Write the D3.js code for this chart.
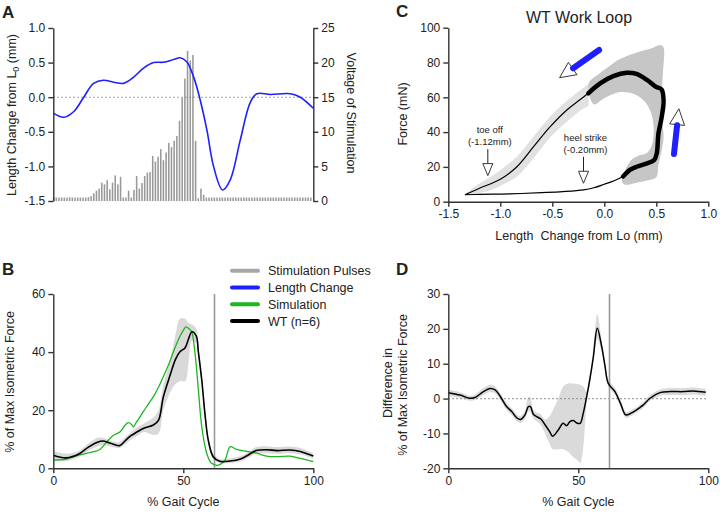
<!DOCTYPE html>
<html><head><meta charset="utf-8">
<script src="https://cdn.jsdelivr.net/npm/d3@7"></script>
<style>body{margin:0;background:#fff} svg{display:block}</style>
</head><body><svg id="c" width="720" height="514"></svg>
<script>
// ---------- Panel A data ----------
const stimPulses = [
0.5,0.5,0.5,0.5,0.5,0.5,0.55,0.5,0.5,0.5,0.5,0.5,0.5,0.55,
0.7,1.1,1.5,1.8,2.65,2.4,3.0,1.7,2.65,3.7,2.4,3.5,0.5,0.5,1.5,0.5,1.6,3.6,1.8,2.6,3.6,4.1,4.2,6.5,5.7,6.4,7.5,5.9,7.0,8.4,7.8,8.7,9.4,11.6,14.9,17.7,21.7,20.3,21.1,8.7,0.4,1.8,0.9,
0.5,0.5,0.5,0.5,0.5,0.5,0.5,0.5,0.5,0.5,
0.5,0.5,0.5,0.5,0.5,0.5,0.5,0.5,0.5,0.5,
0.5,0.5,0.5,0.5,0.5,0.5,0.5,0.5,0.5,0.5,
0.5,0.5,0.5,0.5,0.5,0.5,0.5,0.5,0.5,0.5];
const lengthPct = [0,4,7.8,11.7,15.5,19.3,23.2,27,30.9,34.7,38.6,42.4,46.3,48.8,51.4,54,56.5,59.1,61.7,65.1,68.1,71.9,75.8,78.3,83.5,91.2,95,100];
const lengthMm = [-0.23,-0.29,-0.21,0.0,0.20,0.245,0.217,0.20,0.29,0.42,0.50,0.505,0.545,0.57,0.51,0.29,-0.04,-0.48,-1.01,-1.34,-1.19,-0.62,-0.07,0.05,0.04,0.05,0.0,-0.16];
const aLeftTicks = [-1.5,-1.0,-0.5,0,0.5,1.0];
const aRightTicks = [0,5,10,15,20,25];

// ---------- Panel B data ----------
const wtPct  = [0,5,10,13.5,17,19,22,25.5,28,30,32,35,38.5,40.5,42.3,44.9,47,48.7,50.7,52,53.3,55,55.8,57.1,58.3,59.6,61.5,64,68,72,75,78,82,86,91,95,100];
const wtMean = [4.5,3.6,5.0,7.3,9.0,9.4,8.6,7.8,9.8,11.3,12.4,13.9,14.9,16.6,24.5,32,37.5,40.1,41.5,44.5,47,45.5,40,30.4,19,9.7,4.0,2.4,2.5,3.2,4.6,6.1,6.4,6.1,6.3,5.8,4.2];
const wtLow  = [3,2.5,4,6,7.5,8,7.5,7,8.5,10,11,12.5,11.5,12,20,26,29,30,30,36,44,43,38,28.5,17,8.5,3,1.8,1.8,2.4,3.6,5,5.2,5,5.2,4.8,3.3];
const wtHigh = [6,5,6,8.5,10.5,10.5,9.5,9,11,12.5,14,15.5,17.5,20,28.5,37,46,51.5,51.5,50,49.5,48,42,32.5,21,11,5,3.2,3.4,4.2,5.6,7.3,7.6,7.3,7.5,7,5.2];
const simPct = [0,5,10,15.4,17.9,20.5,23,25.6,27.6,28.8,30,30.8,31.8,33.2,34.6,36.5,38.5,40.5,42.3,44.5,46.2,48.5,50,51,52.2,53.2,54.5,55.8,57.1,59,60.9,63.5,66,68,70.5,74.4,78.2,82,86,91,95,100];
const simVal = [2.8,3.2,4.6,5.7,6.5,9.0,11.3,12.5,14.8,15.7,15.2,14.3,15.6,17.5,19.5,22,24.7,28,31.5,36,40.1,45,47.5,48.7,48.0,47,39.6,27,14.3,5.2,1.7,1.1,2.8,7.4,6.5,5.8,5.2,4.2,4.0,4.2,3.4,2.3];
const bYTicks = [0,20,40,60];
const gaitTicks = [0,50,100];
const footOffPct = 62;
const legendNames = ["Stimulation Pulses","Length Change","Simulation","WT (n=6)"];
const legendColors = ["#a6a6a6","#1f1fff","#1fb51f","#000000"];

// ---------- Panel C data ----------
const loopLen   = [-1.34,-1.2,-1.0,-0.8,-0.6,-0.4,-0.2,-0.1,0.0,0.1,0.18,0.25,0.31,0.41,0.48,0.505,0.52,0.55,0.57,0.55,0.50,0.41,0.31,0.215,0.087,-0.04,-0.154,-0.36,-0.52,-0.68,-0.84,-1.0,-1.2,-1.34];
const loopForce = [4.0,4.2,4.4,4.7,5.2,5.8,6.8,8.0,10.0,12.2,14.5,18.4,20.1,22.0,24.0,28,39,48,58,64.6,65.9,70.0,73.4,74.1,72.2,68.0,62.3,52.7,43.1,31.6,20.1,12.9,7.7,4.0];
const stimStart = 10, stimEnd = 26;
const cLightLen  = [-1.34,-1.25,-1.1,-0.97,-0.84,-0.68,-0.52,-0.36,-0.2,-0.15];
const cLightLow  = [3.5,4.5,6.5,10,14.5,25,37,46,53.5,55];
const cLightHigh = [4.5,8.5,14,19.5,26,37.5,49,58,65.5,68];
const cDarkLen   = [-0.15,-0.05,0.05,0.15,0.3,0.45,0.54,0.57,0.565,0.55,0.545,0.56,0.57,0.55,0.52,0.50,0.42,0.3,0.2,0.17,0.18,0.21,0.26,0.33,0.41,0.46,0.475,0.45,0.39,0.28,0.15,0.0,-0.1];
const cDarkForce = [68,73.5,78,82,85.5,88,90,88.5,75,62,52,44,37,29,21,14,12.3,10.8,9.8,11.5,15,19.5,24,26.5,28,33,42,51,57.5,62,63,59.5,56];
const cXTicks = [-1.5,-1.0,-0.5,0,0.5,1.0];
const cYTicks = [0,20,40,60,80,100];
const eventNames = ["toe off","heel strike"];
const eventLabels = ["(-1.12mm)","(-0.20mm)"];
const eventLen = [-1.12,-0.20];
const eventForce = [15,10.6];
const dirFromLen = [-0.05,0.67], dirFromForce = [87.2,27.4];
const dirToLen = [-0.30,0.70], dirToForce = [76.7,44];

// ---------- Panel D data ----------
const diffPct  = [0,4.5,8.3,10.3,13.5,16,18,20,22.4,24.4,26.3,27.8,29.5,30.8,31.6,32.7,34,35.5,37.2,39,40.1,42.3,44.2,45.5,46.8,48.1,49.4,50.7,51.9,53.2,54.5,55.8,57.3,59,60.3,61.5,64.1,66.3,68.3,71.2,73.8,75,77.6,81.4,85.3,90.4,94.2,99];
const diffMean = [1.7,1.0,0.1,0.3,2.0,2.9,2.5,0.6,-2.3,-3.7,-5.5,-6.0,-4.7,-2.3,-2.3,-4.5,-5.2,-5.8,-7.5,-9.5,-10.8,-9.0,-7.1,-7.8,-6.6,-6.3,-7.0,-7.1,-4.2,0.5,5.8,12.0,20.2,14.9,9.2,4.4,2.0,-1.5,-4.7,-3.8,-2.5,-1.8,0.1,1.7,2.0,2.0,2.2,1.8];
const diffLow  = [0.7,0.2,-0.6,-0.4,1,1.8,1.5,-0.4,-3.3,-4.7,-6.5,-7,-5.8,-3.5,-3.8,-5.7,-6.5,-7.5,-10,-13,-14.5,-14.5,-14.5,-15,-15.8,-16.8,-17.5,-18.5,-14,-1,4.5,10.5,17,13.5,8,3.5,1.2,-2.5,-5.5,-4.6,-3.3,-2.6,-0.7,0.8,1,1,1.2,0.8];
const diffHigh = [2.5,1.8,0.8,1.2,3,4,3.5,1.6,-1.3,-2.7,-4.5,-5,-3.5,0.5,0.3,-3.3,-4,-4.5,-6,-5,-3.5,0,3.5,4.2,4.4,4.3,4.2,4.0,3.5,2,7.2,14.5,24.2,16.5,10.5,5.5,3,-0.5,-3.8,-3,-1.7,-1,1,2.6,3,3,3.2,2.8];
const dYTicks = [-20,-10,0,10,20,30];

// ---------- drawing ----------
const FONT = '"Liberation Sans", Arial, Helvetica, sans-serif';
const svg = d3.select('#c');
const AX = '#333';
function styleAxis(g){
  g.attr('font-family', FONT).attr('font-size', 12);
  g.select('.domain').attr('stroke', AX).attr('stroke-width', 1.4);
  g.selectAll('.tick line').attr('stroke', AX).attr('stroke-width', 1.4);
  g.selectAll('.tick text').attr('fill', '#222');
}
const f1 = d => d.toFixed(1);
const f0 = d => String(d);
function txt(x, y, s, opts={}){
  const t = svg.append('text').attr('x', x).attr('y', y).text(s)
    .attr('font-family', FONT).attr('font-size', opts.size || 12.5).attr('fill', '#222')
    .attr('text-anchor', opts.anchor || 'start');
  if (opts.weight) t.attr('font-weight', opts.weight);
  if (opts.rotate) t.attr('transform', `rotate(${opts.rotate},${x},${y})`);
  return t;
}
const cat = d3.curveCatmullRom.alpha(0.5);

// ===== Panel A =====
const xA = d3.scaleLinear().domain([0,100]).range([53.3,313.3]);
const yAL = d3.scaleLinear().domain([-1.5,1.0]).range([201,28]);
const yAR = d3.scaleLinear().domain([0,25]).range([201,28]);
const xBar = d3.scaleBand().domain(d3.range(stimPulses.length)).range([52.8,311.6]).paddingInner(0.42);
svg.append('g').selectAll('rect').data(stimPulses).join('rect')
  .attr('x', (d,i) => xBar(i)).attr('width', xBar.bandwidth())
  .attr('y', d => yAR(d)).attr('height', d => yAR(0) - yAR(d)).attr('fill', '#999');
svg.append('line').attr('x1', xA(0)).attr('x2', xA(100)).attr('y1', yAL(0)).attr('y2', yAL(0))
  .attr('stroke', '#888').attr('stroke-width', 1.1).attr('stroke-dasharray', '1.5,2.5');
svg.append('path').datum(lengthPct.map((p,i) => [p, lengthMm[i]]))
  .attr('d', d3.line().x(d => xA(d[0])).y(d => yAL(d[1])).curve(cat))
  .attr('fill', 'none').attr('stroke', '#1f1fff').attr('stroke-width', 1.6);
svg.append('g').attr('transform', `translate(${xA(0)},0)`)
  .call(d3.axisLeft(yAL).tickValues(aLeftTicks).tickFormat(f1).tickSize(5).tickSizeOuter(0)).call(styleAxis);
svg.append('g').attr('transform', `translate(${xA(100)},0)`)
  .call(d3.axisRight(yAR).tickValues(aRightTicks).tickFormat(f0).tickSize(5).tickSizeOuter(0)).call(styleAxis);
txt(2, 18, 'A', {size: 17, weight: 'bold'});
{
  const t = svg.append('text').attr('transform', 'translate(16,115) rotate(-90)')
    .attr('text-anchor', 'middle').attr('font-family', FONT).attr('font-size', 12.5).attr('fill', '#222');
  t.append('tspan').text('Length Change from L');
  t.append('tspan').text('0').attr('font-size', 9).attr('dy', 3);
  t.append('tspan').text(' (mm)').attr('dy', -3);
}
txt(347, 113, 'Voltage of Stimulation', {anchor: 'middle', rotate: 90});

// ===== Panel B =====
const xB = d3.scaleLinear().domain([0,100]).range([53.3,313.3]);
const yB = d3.scaleLinear().domain([0,60]).range([468.3,294]);
svg.append('path').datum(wtPct.map((p,i) => [p, wtLow[i], wtHigh[i]]))
  .attr('d', d3.area().x(d => xB(d[0])).y0(d => yB(d[1])).y1(d => yB(d[2])).curve(cat))
  .attr('fill', '#d9d9d9');
svg.append('line').attr('x1', xB(footOffPct)).attr('x2', xB(footOffPct)).attr('y1', yB(60)).attr('y2', yB(0))
  .attr('stroke', '#9a9a9a').attr('stroke-width', 1.6);
svg.append('path').datum(simPct.map((p,i) => [p, simVal[i]]))
  .attr('d', d3.line().x(d => xB(d[0])).y(d => yB(d[1])).curve(cat))
  .attr('fill', 'none').attr('stroke', '#1fb51f').attr('stroke-width', 1.3);
svg.append('path').datum(wtPct.map((p,i) => [p, wtMean[i]]))
  .attr('d', d3.line().x(d => xB(d[0])).y(d => yB(d[1])).curve(cat))
  .attr('fill', 'none').attr('stroke', '#000').attr('stroke-width', 1.6);
svg.append('g').attr('transform', `translate(${xB(0)},0)`)
  .call(d3.axisLeft(yB).tickValues(bYTicks).tickFormat(f0).tickSize(5).tickSizeOuter(0)).call(styleAxis);
svg.append('g').attr('transform', `translate(0,${yB(0)})`)
  .call(d3.axisBottom(xB).tickValues(gaitTicks).tickFormat(f0).tickSize(5).tickSizeOuter(0)).call(styleAxis);
txt(2, 275, 'B', {size: 17, weight: 'bold'});
txt(14, 382, '% of Max Isometric Force', {anchor: 'middle', rotate: -90});
txt(xB(50), 506, '% Gait Cycle', {anchor: 'middle'});
// legend
const lg = svg.append('g');
legendNames.forEach((n, i) => {
  const y = 270.7 + i * 16.8;
  lg.append('line').attr('x1', 232).attr('x2', 258).attr('y1', y).attr('y2', y)
    .attr('stroke', legendColors[i]).attr('stroke-width', 4).attr('stroke-linecap', 'round');
  lg.append('text').attr('x', 268).attr('y', y + 4.5).text(n)
    .attr('font-family', FONT).attr('font-size', 12.5).attr('fill', '#222');
});

// ===== Panel C =====
const xC = d3.scaleLinear().domain([-1.5,1.0]).range([448.3,708.3]);
const yC = d3.scaleLinear().domain([0,100]).range([201.7,27.7]);
svg.append('path').datum(cLightLen.map((l,i) => [l, cLightLow[i], cLightHigh[i]]))
  .attr('d', d3.area().x(d => xC(d[0])).y0(d => yC(d[1])).y1(d => yC(d[2])).curve(cat))
  .attr('fill', '#e1e1e1');
svg.append('path').datum(cDarkLen.map((l,i) => [l, cDarkForce[i]]))
  .attr('d', d3.line().x(d => xC(d[0])).y(d => yC(d[1])).curve(d3.curveCatmullRomClosed.alpha(0.5)))
  .attr('fill', '#c6c6c6');
const loopPts = loopLen.map((l,i) => [l, loopForce[i]]);
const loopLine = d3.line().x(d => xC(d[0])).y(d => yC(d[1])).curve(cat);
svg.append('path').datum(loopPts).attr('d', loopLine)
  .attr('fill', 'none').attr('stroke', '#000').attr('stroke-width', 1.2);
svg.append('path').datum(loopPts.slice(stimStart, stimEnd + 1)).attr('d', loopLine)
  .attr('fill', 'none').attr('stroke', '#000').attr('stroke-width', 4.5)
  .attr('stroke-linejoin', 'round').attr('stroke-linecap', 'round');
svg.append('g').attr('transform', `translate(${xC(-1.5)},0)`)
  .call(d3.axisLeft(yC).tickValues(cYTicks).tickFormat(f0).tickSize(5).tickSizeOuter(0)).call(styleAxis);
svg.append('g').attr('transform', `translate(0,${yC(0)})`)
  .call(d3.axisBottom(xC).tickValues(cXTicks).tickFormat(f1).tickSize(5).tickSizeOuter(0)).call(styleAxis);
txt(396, 17, 'C', {size: 17, weight: 'bold'});
txt(579, 23, 'WT Work Loop', {anchor: 'middle', size: 16});
txt(407, 114, 'Force (mN)', {anchor: 'middle', rotate: -90});
txt(579, 240, 'Length  Change from Lo (mm)', {anchor: 'middle'}).attr('xml:space', 'preserve').style('white-space', 'pre');
// event annotations
eventLen.forEach((l, i) => {
  const x = xC(l), tip = yC(eventForce[i]);
  svg.append('line').attr('x1', x).attr('x2', x).attr('y1', tip - 26.5).attr('y2', tip - 12)
    .attr('stroke', '#222').attr('stroke-width', 1);
  svg.append('path').attr('d', `M${x-5},${tip-12}L${x+5},${tip-12}L${x},${tip}Z`)
    .attr('fill', '#fff').attr('stroke', '#222').attr('stroke-width', 0.9);
  txt(x + 2, tip - 42.5, eventNames[i], {anchor: 'middle', size: 9.5});
  txt(x + 2, tip - 30.5, eventLabels[i], {anchor: 'middle', size: 9.5});
});
// direction arrows
dirFromLen.forEach((l, i) => {
  const x1 = xC(l), y1 = yC(dirFromForce[i]);
  const x2 = xC(dirToLen[i]), y2 = yC(dirToForce[i]);
  const dx = x2 - x1, dy = y2 - y1, L = Math.hypot(dx, dy);
  const ux = dx / L, uy = dy / L, px = -uy, py = ux;
  const bx = x2 + ux * 0.5, by = y2 + uy * 0.5;
  const tx = bx + ux * 16, ty = by + uy * 16;
  svg.append('path')
    .attr('d', `M${bx + px*7.5},${by + py*7.5}L${tx},${ty}L${bx - px*7.5},${by - py*7.5}Z`)
    .attr('fill', '#fff').attr('stroke', '#222').attr('stroke-width', 0.9);
  svg.append('line').attr('x1', x1).attr('y1', y1).attr('x2', x2).attr('y2', y2)
    .attr('stroke', '#1f1fff').attr('stroke-width', 6).attr('stroke-linecap', 'round');
});

// ===== Panel D =====
const xD = d3.scaleLinear().domain([0,100]).range([448.3,708.3]);
const yD = d3.scaleLinear().domain([-20,30]).range([468.3,294]);
svg.append('path').datum(diffPct.map((p,i) => [p, diffLow[i], diffHigh[i]]))
  .attr('d', d3.area().x(d => xD(d[0])).y0(d => yD(d[1])).y1(d => yD(d[2])).curve(cat))
  .attr('fill', '#dadada');
svg.append('line').attr('x1', xD(0)).attr('x2', xD(100)).attr('y1', yD(0)).attr('y2', yD(0))
  .attr('stroke', '#888').attr('stroke-width', 1.1).attr('stroke-dasharray', '1.5,2.5');
svg.append('line').attr('x1', xD(footOffPct)).attr('x2', xD(footOffPct)).attr('y1', yD(30)).attr('y2', yD(-20))
  .attr('stroke', '#9a9a9a').attr('stroke-width', 1.6);
svg.append('path').datum(diffPct.map((p,i) => [p, diffMean[i]]))
  .attr('d', d3.line().x(d => xD(d[0])).y(d => yD(d[1])).curve(cat))
  .attr('fill', 'none').attr('stroke', '#000').attr('stroke-width', 1.5);
svg.append('g').attr('transform', `translate(${xD(0)},0)`)
  .call(d3.axisLeft(yD).tickValues(dYTicks).tickFormat(f0).tickSize(5).tickSizeOuter(0)).call(styleAxis);
svg.append('g').attr('transform', `translate(0,${yD(-20)})`)
  .call(d3.axisBottom(xD).tickValues(gaitTicks).tickFormat(f0).tickSize(5).tickSizeOuter(0)).call(styleAxis);
txt(396, 275, 'D', {size: 17, weight: 'bold'});
txt(392, 383, 'Difference in', {anchor: 'middle', rotate: -90});
txt(407, 385, '% of Max Isometric Force', {anchor: 'middle', rotate: -90});
txt(xD(50), 506, '% Gait Cycle', {anchor: 'middle'});
</script></body></html>
